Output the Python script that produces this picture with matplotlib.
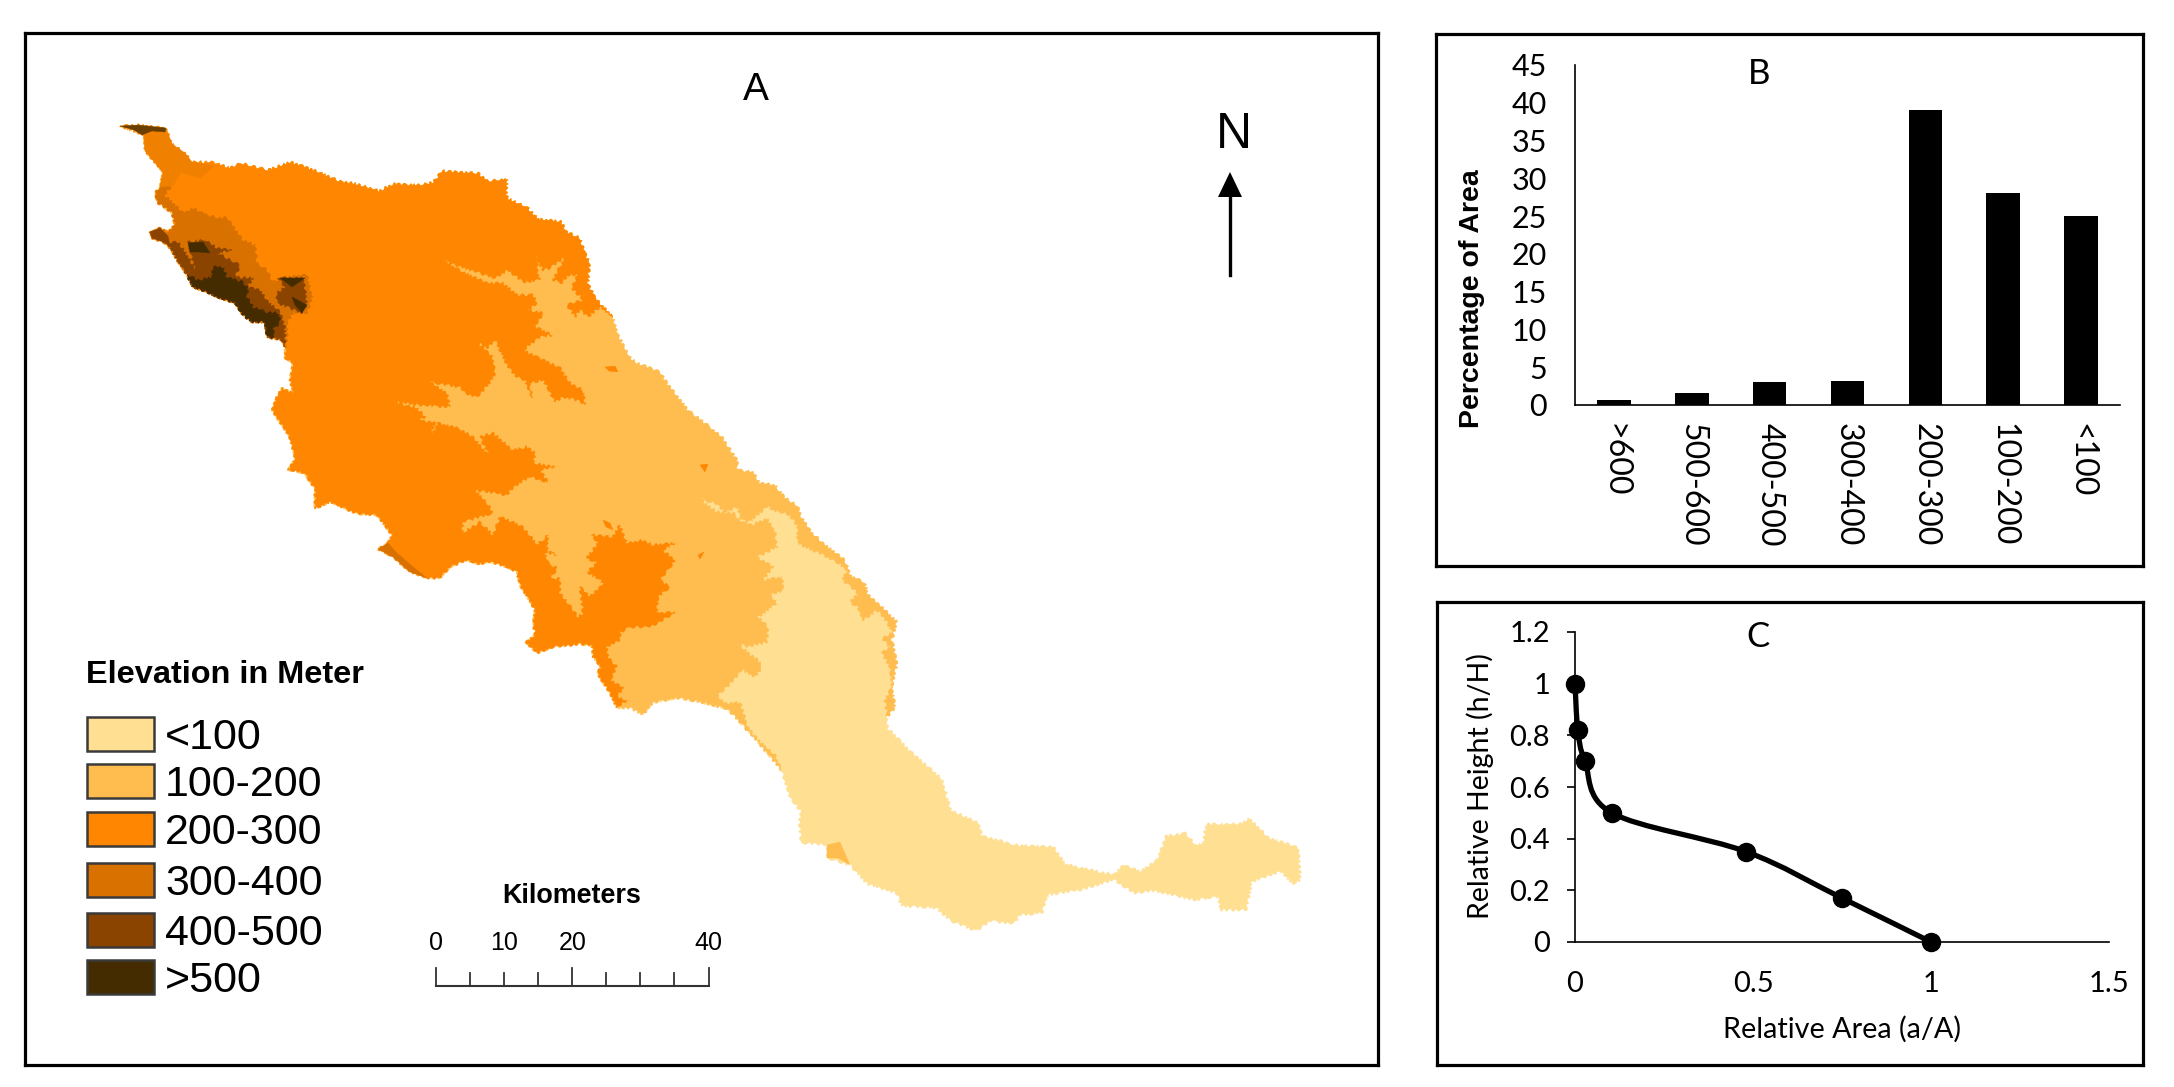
import numpy as np
import matplotlib
matplotlib.use('Agg')
import matplotlib.pyplot as plt
from matplotlib.patches import Polygon, Rectangle
from matplotlib.path import Path
from matplotlib.patches import PathPatch

W, H = 2174, 1087

# map outline, in picture pixels, cut into stretches so the zones can share them
edge_north = [(120,126),(138,125),(166,128),(172,144),(185,153),(192,162),(214,162),(230,168),(241,163),
    (268,170),(290,162),(312,169),(339,181),(353,183),(379,191),(393,184),(420,185),(433,182),(442,171),
    (478,173),(487,181),(507,179),(507,198),(527,207),(538,219),(558,221),(560,220),(567,232),(580,238),
    (585,253),(590,263),(588,283),(595,298),(613,317)]
edge_ne = [(618,335),(630,357),(635,362),(660,372),(667,383),(688,410),(710,427),(722,437),(737,460),(738,470),
    (753,472),(760,483),(775,485),(785,498),(797,505),(802,518),(812,533),(828,547),(845,560),(850,575),
    (865,583),(868,595),(883,608),(897,622),(892,640),(897,663),(892,687),(895,708),(887,717)]
edge_east = [(888,728),(910,751),(942,779),(951,810),(979,823),(982,836),(1017,845),(1054,847),(1065,864),
    (1114,875),(1123,865),(1140,871),(1157,860),(1166,836),(1186,833),(1195,845),(1203,843),(1206,824),
    (1241,824),(1249,818),(1269,838),(1298,847),(1301,880),(1292,884),(1281,871),(1252,882),(1246,910),
    (1220,910),(1218,897),(1195,900),(1154,891),(1134,893),(1114,880),(1080,890),(1048,895),(1042,913),
    (1020,915),(1014,924),(991,921),(976,931),(951,921),(936,908),(902,906),(896,893),(867,884),(850,865),
    (827,858),(827,845),(801,843),(799,821),(801,812),(790,797),(781,770)]
edge_sw = [(767,753),(738,720),(727,709),(700,702),(677,698),(653,703),(643,715),(630,708)]
edge_low = [(617,708),(610,693),(597,673),(601,667),(593,657),(592,646),(580,644),(553,647),(537,653),(526,642),
    (535,635),(533,622),(535,610),(520,585),(517,572),(507,567),(490,562),(478,564),(467,560),(450,567),
    (440,578),(427,578),(410,572),(393,557),(378,549),(388,543),(392,535),(383,523),(377,515),(360,514),
    (353,512),(330,502),(315,509),(315,489),(304,473),(288,470),(295,459),(290,438),(272,410),(277,397),
    (282,388),(293,393),(290,380),(293,363),(285,358),(285,347)]
edge_scarp = [(282,340),(267,337),(265,322),(252,322),(243,315),(235,303),(217,297),(207,292),(193,287),(187,275),
    (177,260),(170,248),(163,242),(152,238),(150,232),(160,228),(168,232),(175,225),(172,213),(158,203),
    (155,193),(160,187)]
edge_top = [(163,172),(145,151),(144,135)]

# inner zone boundaries
zone_200_300 = [(600,307),(588,317),(580,310),(575,317),(567,305),(583,300),(572,288),(577,275),(568,275),(562,283),
    (553,280),(565,257),(550,268),(543,270),(535,255),(527,253),(538,252),(537,270),(540,280),(523,282),
    (508,270),(495,278),(470,270),(442,260),(463,272),(487,283),(503,283),(517,295),(533,295),(537,303),
    (528,310),(543,313),(535,327),(553,335),(540,337),(523,350),(537,357),(560,368),(570,383),(583,390),
    (585,405),(577,400),(563,397),(555,402),(548,388),(543,380),(530,383),(532,398),(525,380),(517,377),
    (508,367),(500,350),(495,340),(487,348),(478,343),(492,357),(495,373),(490,383),(477,397),(465,393),
    (460,387),(430,382),(447,393),(450,407),(420,405),(393,402),(417,408),(425,417),(420,420),(435,423),
    (430,437),(438,423),(457,428),(473,437),(490,457),(480,437),(493,433),(513,450),(527,447),(535,453),
    (533,463),(555,467),(540,470),(548,482),(530,477),(513,487),(507,495),(475,490),(487,503),(493,513),
    (463,522),(462,533),(480,522),(493,535),(500,517),(520,525),(530,535),(537,545),(548,535),(547,550),
    (557,555),(545,552),(548,563),(557,568),(550,580),(560,578),(560,593),(568,603),(578,617),(583,613),
    (580,587),(590,597),(607,580),(613,597),(600,580),(587,572),(597,563),(587,558),(598,543),(592,535),
    (613,537),(620,525),(627,543),(643,540),(653,545),(675,543),(662,550),(675,560),(668,570),(660,580),
    (670,587),(658,597),(657,613),(675,612),(655,625),(643,627),(630,627),(620,633),(620,640),(607,647),
    (608,657),(617,667),(610,680),(623,688),(617,697),(627,700)]
zone_100_200 = [(885,700),(892,687),(890,667),(882,653),(890,647),(882,638),(892,633),(887,622),(877,610),(868,617),
    (862,620),(858,607),(850,602),(858,593),(842,580),(847,570),(837,562),(827,557),(817,552),(805,547),
    (797,542),(798,527),(787,513),(772,510),(768,505),(758,515),(748,523),(740,517),(738,507),(725,512),
    (715,503),(703,500),(700,495),(705,503),(717,512),(733,513),(742,522),(752,525),(767,518),(775,532),
    (777,547),(757,557),(773,567),(763,580),(782,577),(783,590),(770,595),(777,603),(758,617),(768,627),
    (767,642),(747,647),(738,643),(748,653),(758,660),(762,668),(755,677),(742,670),(727,687),(717,695),
    (725,703),(740,703),(748,727),(758,740),(775,755)]
patch_mid = [(827,845),(840,842),(850,865),(838,858),(827,858)]
specks_200_300 = [[(605,367),(615,366),(618,372),(609,371)], [(700,465),(708,464),(705,472)],
    [(603,520),(610,523),(613,530),(606,527)], [(698,555),(704,552),(700,559)]]
zone_300_400 = [(173,183),(165,195),(183,213),(193,208),(207,215),(220,218),(227,217),(237,232),(243,240),(255,245),
    (257,263),(267,270),(273,283),(280,278),(307,275),(312,297),(307,313),(293,313),(287,323),(287,340),(285,347)]
zone_neck = [(144,135),(166,128),(172,144),(185,153),(192,162),(214,166),(200,178),(181,172),(173,186),(160,187),
    (163,172),(145,151)]
zone_fringe = [(378,549),(388,543),(396,552),(412,566),(427,578),(410,572),(393,557)]
zone_400_500 = [(168,243),(178,242),(185,252),(195,270),(188,242),(205,240),(217,248),(232,250),(217,253),(240,265),
    (235,277),(253,278),(247,287),(260,290),(268,302),(280,312),(285,327),(285,347),(282,340),(267,337),
    (265,322),(252,322),(243,315),(235,303),(217,297),(207,292),(193,287),(187,275),(177,260),(170,248)]
zone_400_500_tip = [(150,232),(160,228),(168,236),(170,246),(163,242),(152,238)]
zone_400_500_east = [(278,278),(303,278),(307,303),(302,313),(290,308),(277,303),(277,293),(285,287)]
zone_500 = [(187,275),(198,280),(212,277),(213,267),(223,267),(227,277),(243,282),(248,288),(247,297),(253,307),
    (267,312),(278,313),(280,322),(273,330),(275,337),(267,337),(265,322),(252,322),(243,315),(235,303),
    (217,297),(207,292),(193,287)]
zone_500_small = [(188,243),(203,242),(210,253),(198,252),(190,252)]
zone_500_east_a = [(280,278),(305,278),(292,287),(287,283)]
zone_500_east_b = [(292,297),(307,305),(302,313),(295,305)]
zone_tip = [(120,126),(138,125),(166,128),(165,132),(152,131),(142,135),(134,130)]

legend_labels = ['<100', '100-200', '200-300', '300-400', '400-500', '>500']
legend_colors = ['#FFDF91', '#FFBD50', '#FF8600', '#D97100', '#8A4400', '#452B00']

scale_km = [0, 5, 10, 15, 20, 25, 30, 35, 40]
scale_labels = [0, 10, 20, 40]

bar_cats = ['>600', '500-600', '400-500', '300-400', '200-300', '100-200', '<100']
bar_vals = [0.7, 1.55, 3.0, 3.2, 39.05, 28.0, 25.05]
bar_ticks = [0, 5, 10, 15, 20, 25, 30, 35, 40, 45]

rel_area = [0, 0.008, 0.028, 0.103, 0.48, 0.75, 1.0]
rel_height = [1.0, 0.82, 0.70, 0.50, 0.35, 0.17, 0.0]
c_xticks = [0, 0.5, 1, 1.5]
c_xlabels = ['0', '0.5', '1', '1.5']
c_yticks = [0, 0.2, 0.4, 0.6, 0.8, 1.0, 1.2]
c_ylabels = ['0', '0.2', '0.4', '0.6', '0.8', '1', '1.2']


def axes_px(fig, x0, y0, x1, y1):
    # axes from picture pixels, y counted from the top
    return fig.add_axes([x0 / W, 1 - y1 / H, (x1 - x0) / W, (y1 - y0) / H])


def panel_frame(fig, x0, y0, x1, y1):
    ax = axes_px(fig, x0, y0, x1, y1)
    ax.set_xticks([])
    ax.set_yticks([])
    for s in ax.spines.values():
        s.set_linewidth(2.3)
        s.set_color('black')
    return ax


fig = plt.figure(figsize=(W / 100, H / 100), dpi=100, facecolor='white')

# panel A
ax = panel_frame(fig, 25, 33, 1378, 1065)
ax.set_xlim(25, 1378)
ax.set_ylim(1065, 33)

base = edge_north + edge_ne + edge_east + edge_sw + edge_low + edge_scarp + edge_top
mid = edge_north + edge_ne + zone_100_200 + edge_east[-1:] + edge_sw + edge_low + edge_scarp + edge_top
orange = edge_north + zone_200_300 + edge_low + edge_scarp + edge_top


def fill(pts, color, rough=False):
    p = Polygon(pts, closed=True, facecolor=color, edgecolor=color, linewidth=0.3)
    if rough:
        # the raster zones have stepped edges
        p.set_sketch_params(1.3, 7, 3)
    ax.add_patch(p)


fill(base, legend_colors[0], rough=True)
fill(mid, legend_colors[1], rough=True)
fill(patch_mid, legend_colors[1])
fill(orange, legend_colors[2], rough=True)
for sp in specks_200_300:
    fill(sp, legend_colors[2])
fill(zone_300_400 + edge_scarp, legend_colors[3], rough=True)
fill(zone_neck, '#F08000')
fill(zone_fringe, legend_colors[3])
fill(zone_400_500, legend_colors[4], rough=True)
fill(zone_400_500_tip, legend_colors[4])
fill(zone_400_500_east, legend_colors[4], rough=True)
fill(zone_500, legend_colors[5], rough=True)
fill(zone_500_small, legend_colors[5])
fill(zone_500_east_a, legend_colors[5])
fill(zone_500_east_b, legend_colors[5])
fill(zone_tip, '#6B3F00')

ax.text(756, 90, 'A', fontsize=28, family='Liberation Sans', ha='center', va='center')

# north arrow
ax.plot([1230, 1230], [275, 195], color='black', lw=2.4)
ax.add_patch(Polygon([(1230, 172), (1218, 197), (1242, 197)], closed=True, facecolor='black', edgecolor='none'))
ax.text(1234, 135, 'N', fontsize=36, family='Liberation Sans', ha='center', va='center')

# legend
ax.text(86, 675, 'Elevation in Meter', fontsize=23.4, fontweight='bold', family='Liberation Sans', ha='left', va='center')
sw_top = [717, 764, 812, 863, 913, 960]
for top, lab, col in zip(sw_top, legend_labels, legend_colors):
    ax.add_patch(Rectangle((87, top), 67, 34, facecolor=col, edgecolor='#3a3a3a', linewidth=1.8))
    ax.text(165, top + 21, lab, fontsize=31, family='Liberation Sans', ha='left', va='center')

# scale bar
px_km = 272.5 / 40
bar_x0 = 436
ax.plot([bar_x0, bar_x0 + 40 * px_km], [986, 986], color='#333333', lw=1.5)
for km in scale_km:
    top = 968 if km % 20 == 0 else 973
    ax.plot([bar_x0 + km * px_km] * 2, [986, top], color='#333333', lw=1.3)
for km in scale_labels:
    ax.text(bar_x0 + km * px_km, 943, str(km), fontsize=18, family='Liberation Sans', ha='center', va='center')
ax.text(572, 896, 'Kilometers', fontsize=19.4, fontweight='bold', family='Liberation Sans', ha='center', va='center')

# panel B
panel_frame(fig, 1436, 34, 2143, 566)
axb = axes_px(fig, 1575, 65, 2120, 405)
axb.patch.set_alpha(0)
axb.bar(range(len(bar_cats)), bar_vals, width=0.43, color='black')
axb.set_xlim(-0.5, 6.5)
axb.set_ylim(0, 45)
axb.set_yticks(bar_ticks)
axb.set_xticks(range(len(bar_cats)))
axb.set_xticklabels(bar_cats, rotation=270, family='Lato', fontsize=23, va='top', ha='center')
axb.tick_params(axis='x', length=0, pad=13)
axb.tick_params(axis='y', length=0, pad=20, labelsize=22)
for t in axb.get_yticklabels():
    t.set_family('Lato')
axb.spines['top'].set_visible(False)
axb.spines['right'].set_visible(False)
axb.spines['left'].set_linewidth(1.2)
axb.spines['bottom'].set_linewidth(1.2)
fig.text(1759 / W, 1 - 74 / H, 'B', fontsize=25, family='Lato', ha='center', va='center')
fig.text(1472 / W, 1 - 299 / H, 'Percentage of Area', rotation=90, fontsize=20.5, fontweight='bold',
         family='Liberation Sans', ha='center', va='center')

# panel C
panel_frame(fig, 1437, 602, 2143, 1065)
axc = axes_px(fig, 1575, 632, 2109, 942)
axc.patch.set_alpha(0)
axc.set_xlim(0, 1.5)
axc.set_ylim(0, 1.2)

# smooth curve through the points, same idea as the spreadsheet smoothing
xs = np.array(rel_area)
ys = np.array(rel_height)
verts = [(xs[0], ys[0])]
codes = [Path.MOVETO]
for i in range(len(xs) - 1):
    x_prev, y_prev = (xs[i - 1], ys[i - 1]) if i > 0 else (xs[i], ys[i])
    x_next, y_next = (xs[i + 2], ys[i + 2]) if i + 2 < len(xs) else (xs[i + 1], ys[i + 1])
    c1 = (xs[i] + (xs[i + 1] - x_prev) / 6, ys[i] + (ys[i + 1] - y_prev) / 6)
    c2 = (xs[i + 1] - (x_next - xs[i]) / 6, ys[i + 1] - (y_next - ys[i]) / 6)
    verts += [c1, c2, (xs[i + 1], ys[i + 1])]
    codes += [Path.CURVE4] * 3
axc.add_patch(PathPatch(Path(verts, codes), facecolor='none', edgecolor='black', lw=3.8, clip_on=False))
axc.plot(rel_area, rel_height, 'o', color='black', ms=13, clip_on=False, zorder=5)

axc.set_xticks(c_xticks)
axc.set_xticklabels(c_xlabels, family='Lato', fontsize=21)
axc.set_yticks(c_yticks)
axc.set_yticklabels(c_ylabels, family='Lato', fontsize=21)
axc.tick_params(axis='x', length=0, pad=21)
axc.tick_params(axis='y', length=6, width=1.2, pad=12, direction='out')
axc.spines['top'].set_visible(False)
axc.spines['right'].set_visible(False)
axc.spines['left'].set_linewidth(1.2)
axc.spines['bottom'].set_linewidth(1.2)
fig.text(1758 / W, 1 - 637 / H, 'C', fontsize=25, family='Lato', ha='center', va='center')
fig.text(1480 / W, 1 - 786 / H, 'Relative Height (h/H)', rotation=90, fontsize=20.5, family='Lato', ha='center', va='center')
fig.text(1842 / W, 1 - 1029 / H, 'Relative Area (a/A)', fontsize=20.7, family='Lato', ha='center', va='center')

fig.savefig('out.png', dpi=100, facecolor='white')
